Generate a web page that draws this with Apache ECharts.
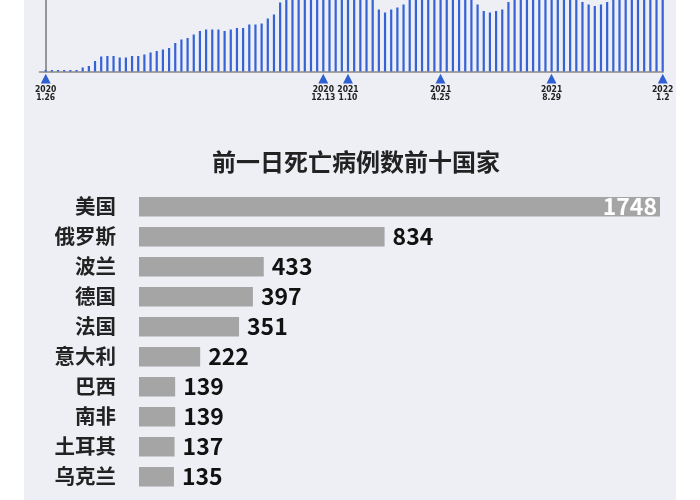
<!DOCTYPE html>
<html>
<head>
<meta charset="utf-8">
<title>前一日死亡病例数前十国家</title>
<script src="https://cdn.jsdelivr.net/npm/echarts@6/dist/echarts.min.js"></script>
<style>
html, body { margin: 0; padding: 0; background: #fff; }
#main {
    width: 700px;
    height: 500px;
    background: linear-gradient(to right, #fff 24px, #edeff5 24px, #edeff5 676px, #fff 676px);
}
</style>
</head>
<body>
<div id="main"></div>
<script>
/**
 * 数据
 */
// 每周柱高（按原图读取，顶部被裁掉的柱子为估计值）
var weekValues = [
    1.5, 1.5, 1.5, 1.5, 1.5, 1.5, 4, 5.5, 10.5, 15,
    15.5, 15.5, 14, 14, 15.5, 15.5, 17, 19, 20.5, 22,
    23.5, 28.5, 32, 33.5, 37, 40.5, 42, 42, 42, 40.5,
    42, 43.5, 43.5, 47, 47, 48, 53, 57, 69,
    76, 80, 83, 86, 88, 90, 92, 94, 95, 96, 95, 92, 87, 81, 75,
    62, 59, 62, 64, 67,
    73, 77, 81, 84, 86, 87, 86, 84, 81, 77, 73,
    67, 60.5, 59, 60.5, 62, 69.5,
    74, 78, 82, 85, 87, 88, 87, 85, 82, 78, 73,
    69.5, 67, 65.5, 67, 69.5,
    73, 76, 79, 82, 84, 86, 88, 90, 92
];
// 时间轴上标出的几个日期
var tickIndex = [0, 45, 49, 64, 82, 100];
var tickYears = ['2020', '2020', '2021', '2021', '2021', '2022'];
var tickDays = ['1.26', '12.13', '1.10', '4.25', '8.29', '1.2'];

// 前一日死亡病例数前十国家
var countries = ['美国', '俄罗斯', '波兰', '德国', '法国', '意大利', '巴西', '南非', '土耳其', '乌克兰'];
var deaths = [1748, 834, 433, 397, 351, 222, 139, 139, 137, 135];

/**
 * 图表
 */
var myChart = echarts.init(document.getElementById('main'));

var weekData = [];
for (var i = 0; i < weekValues.length; i++) {
    weekData.push([i, weekValues[i]]);
}

var deathData = [];
for (var j = 0; j < deaths.length; j++) {
    if (j === 0) {
        // 最长的一条数字写在柱子里面
        deathData.push({
            value: deaths[j],
            label: { position: 'insideRight', color: '#fff', distance: 3 }
        });
    } else {
        deathData.push(deaths[j]);
    }
}

var option = {
    animation: false,
    title: {
        text: '前一日死亡病例数前十国家',
        left: 356,
        top: 150,
        padding: 0,
        textAlign: 'center',
        textStyle: {
            fontFamily: 'Noto Sans CJK SC',
            fontSize: 24,
            fontWeight: 'bold',
            color: '#222'
        }
    },
    grid: [
        // 上面的图在原图中被截掉了顶部
        { left: 39.5, top: 0, width: 623.8, height: 71.5 },
        { left: 139, right: 40, top: 191.7, height: 300 }
    ],
    xAxis: [
        {
            gridIndex: 0,
            type: 'value',
            min: -1,
            max: 100.1,
            interval: 1,
            splitLine: { show: false },
            axisTick: { show: false },
            axisLine: { show: true, lineStyle: { color: '#8d8880', width: 1.5 } },
            axisLabel: {
                margin: 1,
                formatter: function (v) {
                    var k = tickIndex.indexOf(v);
                    if (k < 0) {
                        return '';
                    }
                    return '{t|▲}\n{d|' + tickYears[k] + '}\n{d|' + tickDays[k] + '}';
                },
                rich: {
                    t: { color: '#2f5fd0', fontSize: 13, lineHeight: 13, fontFamily: 'DejaVu Sans' },
                    d: { color: '#222', fontSize: 8.5, lineHeight: 8, fontWeight: 'bold', fontFamily: 'DejaVu Sans Condensed' }
                }
            }
        },
        {
            gridIndex: 1,
            type: 'value',
            min: 19,
            max: 1748,
            show: false
        }
    ],
    yAxis: [
        {
            gridIndex: 0,
            type: 'value',
            min: 0,
            max: 71.5,
            splitLine: { show: false },
            axisTick: { show: false },
            axisLabel: { show: false },
            axisLine: { show: true, lineStyle: { color: '#777', width: 1.5 } }
        },
        {
            gridIndex: 1,
            type: 'category',
            data: countries,
            inverse: true,
            axisLine: { show: false },
            axisTick: { show: false },
            axisLabel: {
                margin: 23,
                fontFamily: 'Noto Sans CJK SC',
                fontSize: 20.5,
                fontWeight: 'bold',
                color: '#222'
            }
        }
    ],
    series: [
        {
            type: 'bar',
            xAxisIndex: 0,
            yAxisIndex: 0,
            data: weekData,
            barWidth: 2.2,
            clip: true,
            itemStyle: { color: '#3562d4' }
        },
        {
            type: 'bar',
            xAxisIndex: 1,
            yAxisIndex: 1,
            data: deathData,
            barWidth: 19.5,
            itemStyle: { color: '#a5a5a5' },
            label: {
                show: true,
                position: 'right',
                distance: 8,
                fontFamily: 'Noto Sans CJK SC',
                fontSize: 23,
                fontWeight: 'bold',
                color: '#111'
            }
        }
    ]
};
myChart.setOption(option);
</script>
</body>
</html>
